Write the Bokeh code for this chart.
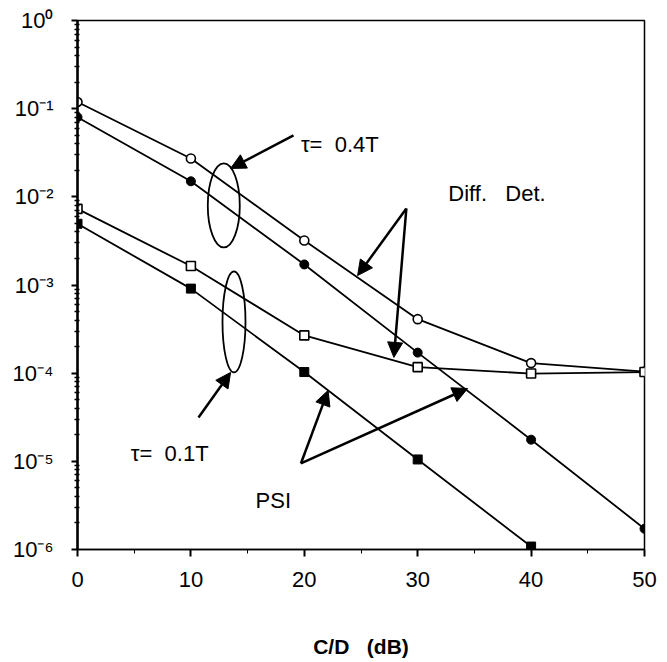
from bokeh.plotting import figure
from bokeh.models import (FixedTicker, CustomJSTickFormatter, Arrow, NormalHead,
                          Range1d)
from bokeh.core.properties import value
from bokeh.embed import file_html
from bokeh.resources import INLINE

# ---- data ----
cd_db = [0, 10, 20, 30, 40, 50]
diff_det_04T = [0.119, 0.0272, 3.2e-3, 4.1e-4, 1.3e-4, 1.04e-4]      # open circles
psi_04T = [0.080, 0.0150, 1.71e-3, 1.71e-4, 1.76e-5, 1.72e-6]         # filled circles
diff_det_01T = [7.3e-3, 1.64e-3, 2.68e-4, 1.17e-4, 0.99e-4, 1.03e-4]  # open squares
cd_db_psi01 = [0, 10, 20, 30, 40]
psi_01T = [4.95e-3, 9.1e-4, 1.03e-4, 1.05e-5, 1.08e-6]                # filled squares

x_ticks = [0, 10, 20, 30, 40, 50]
x_minor = [5, 15, 25, 35, 45]
y_ticks = [1e-6, 1e-5, 1e-4, 1e-3, 1e-2, 1e-1, 1e0]

NB = "\u00a0"
# annotation texts and their anchor positions (data units)
note_text = ["\u03c4=" + NB * 2 + "0.4T", "\u03c4=" + NB * 2 + "0.1T",
             "Diff." + NB * 3 + "Det.", "PSI"]
note_x = [19.7, 4.7, 32.7, 15.7]
note_y = [0.0392, 1.23e-5, 0.0108, 3.6e-6]

# ellipses grouping the curves
ell_x = [12.9, 13.8]
ell_y = [7.98e-3, 3.81e-4]
ell_w = [32, 23]
ell_h = [84, 101]

# arrows: (x_start, y_start, x_end, y_end)
arr_x0 = [19.05, 10.67, 29.0, 29.0, 19.7, 19.7]
arr_y0 = [0.0497, 3.14e-5, 7.37e-3, 7.37e-3, 9.46e-6, 9.46e-6]
arr_x1 = [13.5, 13.5, 24.7, 27.9, 22.1, 34.4]
arr_y1 = [0.0210, 1.02e-4, 1.28e-3, 1.51e-4, 6.37e-5, 6.7e-5]

FONT = "Liberation Sans"

p = figure(width=659, height=660, y_axis_type="log",
           x_range=Range1d(0, 50), y_range=Range1d(1e-6, 1.0),
           output_backend="svg", toolbar_location=None,
           min_border_left=77, min_border_right=15,
           min_border_top=20, min_border_bottom=111)
p.grid.visible = False
p.background_fill_color = "white"
p.border_fill_color = "white"
p.outline_line_color = "black"
p.outline_line_width = 1.5

# x axis
p.xaxis.ticker = FixedTicker(ticks=x_ticks, minor_ticks=x_minor)
p.xaxis.axis_line_width = 1.5
p.xaxis.major_tick_out = 7
p.xaxis.major_tick_in = 0
p.xaxis.minor_tick_out = 4
p.xaxis.minor_tick_in = 0
p.xaxis.major_tick_line_width = 2
p.xaxis.major_label_text_font = FONT
p.xaxis.major_label_text_font_size = "22px"
p.xaxis.major_label_text_color = "black"
p.xaxis.major_label_standoff = 15
p.xaxis.axis_label = "C/D" + NB * 3 + "(dB)"
p.xaxis.axis_label_text_font = FONT
p.xaxis.axis_label_text_font_style = "bold"
p.xaxis.axis_label_text_font_size = "21px"
p.xaxis.axis_label_text_color = "black"
p.xaxis.axis_label_standoff = 45

# y axis
minor = [m * d for d in y_ticks[:-1] for m in range(2, 10)]
p.yaxis.ticker = FixedTicker(ticks=y_ticks, minor_ticks=minor)
p.yaxis.axis_line_width = 2.5
p.yaxis.major_tick_out = 6
p.yaxis.major_tick_in = 0
p.yaxis.major_tick_line_width = 2
p.yaxis.minor_tick_out = 3
p.yaxis.minor_tick_in = 2
p.yaxis.minor_tick_line_width = 1.5
p.yaxis.formatter = CustomJSTickFormatter(code="""
const sup = {"0":"\u2070","1":"\u00b9","2":"\u00b2","3":"\u00b3","4":"\u2074",
             "5":"\u2075","6":"\u2076","7":"\u2077","8":"\u2078","9":"\u2079","-":"\u207b"};
const e = Math.round(Math.log10(tick));
return "10" + String(e).split("").map(c => sup[c]).join("");
""")
p.yaxis.major_label_text_font = FONT
p.yaxis.major_label_text_font_size = "22px"
p.yaxis.major_label_text_color = "black"
p.yaxis.major_label_standoff = 18

LW = 1.8
SZ = 9
# series
p.line(cd_db, diff_det_04T, line_color="black", line_width=LW)
p.scatter(cd_db, diff_det_04T, marker="circle", size=SZ, line_color="black",
          line_width=1.6, fill_color="white")
p.line(cd_db, psi_04T, line_color="black", line_width=LW)
p.scatter(cd_db, psi_04T, marker="circle", size=SZ, line_color="black",
          fill_color="black")
p.line(cd_db, diff_det_01T, line_color="black", line_width=LW)
p.scatter(cd_db, diff_det_01T, marker="square", size=SZ, line_color="black",
          line_width=1.6, fill_color="white")
p.line(cd_db_psi01, psi_01T, line_color="black", line_width=LW)
p.scatter(cd_db_psi01, psi_01T, marker="square", size=SZ, line_color="black",
          fill_color="black")

# ellipses
p.ellipse(x=ell_x, y=ell_y, width=ell_w, height=ell_h,
          width_units="screen", height_units="screen",
          fill_color=None, line_color="black", line_width=1.8)

# arrows
for xs, ys, xe, ye in zip(arr_x0, arr_y0, arr_x1, arr_y1):
    p.add_layout(Arrow(end=NormalHead(size=15, fill_color="black", line_color="black"),
                       x_start=xs, y_start=ys, x_end=xe, y_end=ye,
                       line_color="black", line_width=2.5))

# labels
p.text(x=note_x, y=note_y, text=note_text, text_font=value(FONT),
       text_font_size="22px", text_baseline="middle", text_align="left",
       text_color="black")

open("out.html", "w").write(file_html(p, INLINE))
